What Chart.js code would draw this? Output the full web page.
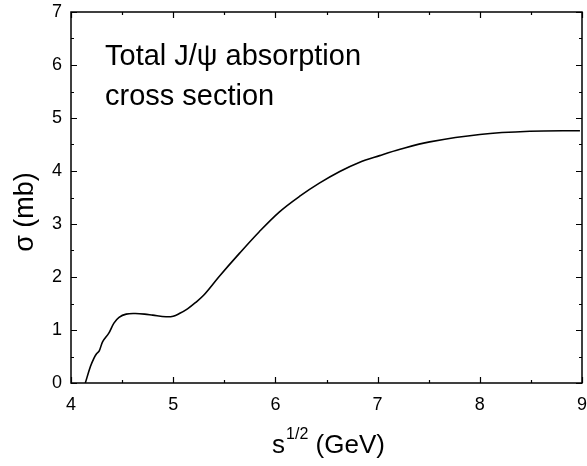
<!DOCTYPE html>
<html>
<head>
<meta charset="utf-8">
<script src="https://cdn.jsdelivr.net/npm/chart.js@4.4.1/dist/chart.umd.min.js"></script>
<style>
html,body{margin:0;padding:0;background:#fff;}
#wrap{width:587px;height:466px;position:relative;}
</style>
</head>
<body>
<div id="wrap"><canvas id="c"></canvas></div>
<script>
// Data
const sqrtS = [4.14, 4.19, 4.225, 4.25, 4.275, 4.31, 4.37, 4.42, 4.47, 4.54, 4.63, 4.72, 4.80, 4.93, 5.0, 5.06, 5.14, 5.22, 5.30, 5.45, 5.65, 5.84, 6.04, 6.235, 6.43, 6.63, 6.82, 7.02, 7.22, 7.51, 8.0, 8.49, 8.98];
const sigma = [0, 0.31, 0.47, 0.55, 0.60, 0.78, 0.94, 1.13, 1.24, 1.30, 1.31, 1.30, 1.28, 1.25, 1.26, 1.31, 1.40, 1.52, 1.66, 2.01, 2.45, 2.85, 3.23, 3.52, 3.77, 3.99, 4.16, 4.29, 4.41, 4.55, 4.69, 4.75, 4.76];
const xTicks = [4, 5, 6, 7, 8, 9];
const yTicks = [0, 1, 2, 3, 4, 5, 6, 7];
const annotationLines = ["Total J/\u03C8 absorption", "cross section"];
const xTitleMain = "s";
const xTitleSup = "1/2";
const xTitleRest = " (GeV)";
const yTitle = "\u03C3 (mb)";

const FONT = "'Liberation Sans', Arial, Helvetica, sans-serif";

const framePlugin = {
  id: 'frame',
  afterDraw(chart) {
    const ctx = chart.ctx;
    const a = chart.chartArea;
    const xs = chart.scales.x, ys = chart.scales.y;
    ctx.save();
    ctx.strokeStyle = '#000';
    ctx.lineWidth = 1.5;
    ctx.strokeRect(a.left, a.top, a.right - a.left, a.bottom - a.top);
    ctx.lineWidth = 1.2;
    for (let v = xTicks[0]; v <= xTicks[xTicks.length - 1] + 1e-9; v += 0.5) {
      const px = Math.round(xs.getPixelForValue(v)) + 0.5;
      const major = Math.abs(v - Math.round(v)) < 1e-9;
      const len = major ? 6 : 3;
      ctx.beginPath();
      ctx.moveTo(px, a.bottom); ctx.lineTo(px, a.bottom - len);
      ctx.moveTo(px, a.top); ctx.lineTo(px, a.top + len);
      ctx.stroke();
    }
    for (let v = yTicks[0]; v <= yTicks[yTicks.length - 1] + 1e-9; v += 0.5) {
      const py = Math.round(ys.getPixelForValue(v)) + 0.5;
      const major = Math.abs(v - Math.round(v)) < 1e-9;
      const len = major ? 6 : 3;
      ctx.beginPath();
      ctx.moveTo(a.left, py); ctx.lineTo(a.left + len, py);
      ctx.moveTo(a.right, py); ctx.lineTo(a.right - len, py);
      ctx.stroke();
    }
    ctx.fillStyle = '#000';
    ctx.font = '29px ' + FONT;
    ctx.textAlign = 'left';
    ctx.textBaseline = 'alphabetic';
    ctx.fillText(annotationLines[0], 105, 65);
    ctx.fillText(annotationLines[1], 105, 105);
    ctx.font = '26px ' + FONT;
    const wMain = ctx.measureText(xTitleMain).width;
    const wRest = ctx.measureText(xTitleRest).width;
    ctx.font = '16px ' + FONT;
    const wSup = ctx.measureText(xTitleSup).width;
    const total = wMain + wSup + 1 + wRest;
    const cx = (a.left + a.right) / 2 + 2;
    let x0 = cx - total / 2;
    const base = 453;
    ctx.font = '26px ' + FONT;
    ctx.fillText(xTitleMain, x0, base);
    ctx.font = '16px ' + FONT;
    ctx.fillText(xTitleSup, x0 + wMain + 1, base - 14);
    ctx.font = '26px ' + FONT;
    ctx.fillText(xTitleRest, x0 + wMain + wSup + 1, base);
    ctx.translate(33, 212);
    ctx.rotate(-Math.PI / 2);
    ctx.textAlign = 'center';
    ctx.font = '27px ' + FONT;
    ctx.fillText(yTitle, 0, 0);
    ctx.restore();
  }
};

new Chart(document.getElementById('c'), {
  type: 'scatter',
  data: {
    datasets: [{
      data: sqrtS.map((x, i) => ({x: x, y: sigma[i]})),
      showLine: true,
      borderColor: '#000',
      borderWidth: 1.6,
      pointRadius: 0,
      tension: 0.35,
      fill: false
    }]
  },
  options: {
    responsive: true,
    maintainAspectRatio: false,
    animation: false,
    devicePixelRatio: 1,
    layout: { padding: { top: 12, right: 5, left: 0, bottom: 0 } },
    plugins: { legend: { display: false }, tooltip: { enabled: false } },
    scales: {
      x: {
        type: 'linear', min: 4, max: 9,
        afterFit(s) { s.height = 83; s.paddingLeft = 0; s.paddingRight = 0; },
        afterBuildTicks(s) { s.ticks = xTicks.map(v => ({value: v})); },
        grid: { display: false, drawTicks: false },
        border: { display: false },
        ticks: { color: '#000', font: { family: FONT, size: 18 }, padding: 11, maxRotation: 0 }
      },
      y: {
        type: 'linear', min: 0, max: 7,
        afterFit(s) { s.width = 71; s.paddingTop = 0; s.paddingBottom = 0; },
        afterBuildTicks(s) { s.ticks = yTicks.map(v => ({value: v})); },
        grid: { display: false, drawTicks: false },
        border: { display: false },
        ticks: { color: '#000', font: { family: FONT, size: 18 }, padding: 9 }
      }
    }
  },
  plugins: [framePlugin]
});
</script>
</body>
</html>
